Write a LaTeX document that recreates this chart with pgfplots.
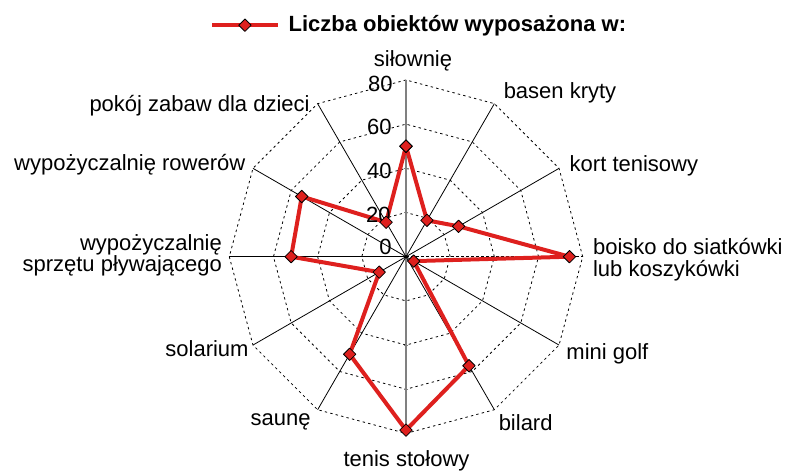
\documentclass[border=0pt]{standalone}
\usepackage{fontspec}
\setmainfont{Liberation Sans}
\usepackage{pgfplots}
\pgfplotsset{compat=1.18}
\usepgfplotslibrary{polar}
\definecolor{serred}{RGB}{222,32,30}
\newcommand\lf{\fontsize{11}{13}\selectfont}
\tikzset{
  rgrid/.style={black, line width=0.4pt, dash pattern=on 1.2pt off 1.6pt},
  rspoke/.style={black, line width=0.4pt},
  lbl/.style={inner sep=0pt},
}

\begin{document}
\begin{tikzpicture}[font=\lf]
\begin{polaraxis}[
  hide axis, scale only axis, width=176.7pt, height=176.7pt,
  xmin=0, xmax=360, ymin=0, ymax=80, clip=false,
  legend style={at={(-0.072,1.155)}, anchor=west, draw=none, fill=none,
    font=\lf\bfseries, legend cell align=left},
  legend image code/.code={\draw[mark repeat=2,mark phase=2,#1]
    plot coordinates {(0cm,0cm) (0.575cm,0cm) (1.15cm,0cm)};},
]
% dodecagon grid
\pgfplotsinvokeforeach{20,40,60,80}{
  \addplot[rgrid, forget plot] coordinates {(0,#1) (30,#1) (60,#1) (90,#1) (120,#1)
    (150,#1) (180,#1) (210,#1) (240,#1) (270,#1) (300,#1) (330,#1) (360,#1)};
}
% spokes
\pgfplotsinvokeforeach{30,60,120,150,180,210,240,300,330}{
  \addplot[rspoke, forget plot] coordinates {(#1,0) (#1,80)};
}
\addplot[black, line width=0.4pt, dash pattern=on 1.5pt off 1pt, forget plot] coordinates {(0,0) (0,80)};
\addplot[gray, line width=0.8pt, forget plot] coordinates {(90,80) (90,0) (270,80)};
\addplot[gray, only marks, mark=-, mark size=1.2pt, forget plot] coordinates {(90,20) (90,40) (90,60) (270,20) (270,40) (270,60)};
\addplot[black, only marks, mark=*, mark size=0.8pt, forget plot] coordinates {(0,0)};

% data
\addplot[serred, line width=2pt, line join=round, mark=square*, mark size=2.2pt,
  mark options={rotate=45, fill=serred, draw=black, line width=0.4pt, solid}]
  coordinates {(90,50) (60,19) (30,27.5) (0,74) (-30,4) (-60,57) (-90,78.5)
    (-120,51) (-150,14) (-180,52) (-210,54.5) (-240,18) (-270,50)};
\addlegendentry{\hspace{2.5pt}Liczba obiektów wyposażona w:}

\coordinate (c) at (axis cs:0,0);

% radial tick labels
\node[lbl, anchor=base east, xshift=-6.5pt, yshift=-5.85pt] at (axis cs:90,80) {80};
\node[lbl, anchor=base east, xshift=-7pt, yshift=-5.4pt] at (axis cs:90,60) {60};
\node[lbl, anchor=base east, xshift=-7pt, yshift=-5pt] at (axis cs:90,40) {40};
\node[lbl, anchor=base east, xshift=-7.5pt, yshift=-5pt] at (axis cs:90,20) {20};
\node[lbl, anchor=base east, xshift=-7pt, yshift=0.85pt] at (axis cs:90,0) {0};

% category labels
\node[lbl, anchor=base, xshift=3.5pt, yshift=6.65pt] at (axis cs:90,80) {siłownię};
\node[lbl, anchor=base west, xshift=4.5pt, yshift=2.7pt] at (axis cs:60,80) {basen kryty};
\node[lbl, anchor=base west, xshift=5.15pt, yshift=-1.35pt] at (axis cs:30,80) {kort tenisowy};
\node[lbl, anchor=base west, xshift=5pt, yshift=0.85pt] at (axis cs:0,80) {boisko do siatkówki};
\node[lbl, anchor=base west, xshift=5pt, yshift=-10pt] at (axis cs:0,80) {lub koszykówki};
\node[lbl, anchor=base west, xshift=3.5pt, yshift=-7.15pt] at (axis cs:330,80) {mini golf};
\node[lbl, anchor=base west, xshift=2pt, yshift=-10.15pt] at (axis cs:300,80) {bilard};
\node[lbl, anchor=base, xshift=0.25pt, yshift=-16.3pt] at (axis cs:270,80) {tenis stołowy};
\node[lbl, anchor=base east, xshift=-3.3pt, yshift=-7.65pt] at (axis cs:240,80) {saunę};
\node[lbl, anchor=base east, xshift=-2pt, yshift=-5.85pt] at (axis cs:210,80) {solarium};
\node[lbl, anchor=base east, xshift=-3.5pt, yshift=2.85pt] at (axis cs:180,80) {wypożyczalnię};
\node[lbl, anchor=base east, xshift=-3.5pt, yshift=-7.5pt] at (axis cs:180,80) {sprzętu pływającego};
\node[lbl, anchor=base east, xshift=-3.65pt, yshift=-1.2pt] at (axis cs:150,80) {wypożyczalnię rowerów};
\node[lbl, anchor=base east, xshift=-3.8pt, yshift=-4pt] at (axis cs:120,80) {pokój zabaw dla dzieci};
\end{polaraxis}
\pgfresetboundingbox
\path[use as bounding box] (c) ++(-203pt,-106.65pt) rectangle ++(392.5pt,235pt);
\end{tikzpicture}
\end{document}
